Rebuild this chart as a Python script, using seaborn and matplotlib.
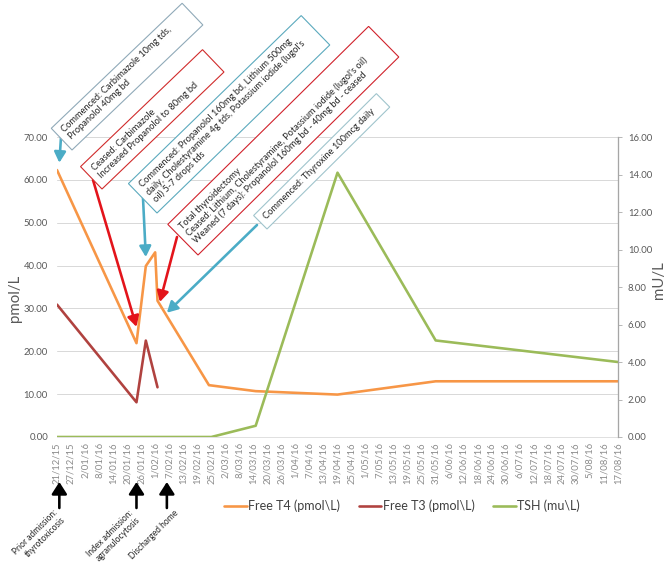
import matplotlib
matplotlib.use("Agg")
import matplotlib.pyplot as plt
import matplotlib.dates as mdates
from matplotlib.patches import Rectangle
from matplotlib.lines import Line2D
from matplotlib.transforms import IdentityTransform, blended_transform_factory
import seaborn as sns
import pandas as pd
import numpy as np

# ---------------- data ----------------
t4_dates = ["21/12/15", "24/01/16", "28/01/16", "1/02/16", "2/02/16",
            "24/02/16", "15/03/16", "19/04/16", "31/05/16", "17/08/16"]
t4_vals = [62.3, 21.9, 39.9, 43.1, 31.8, 12.1, 10.7, 9.9, 13.0, 13.0]

t3_dates = ["21/12/15", "24/01/16", "28/01/16", "2/02/16"]
t3_vals = [30.9, 8.1, 22.5, 11.6]

tsh_dates = ["21/12/15", "25/02/16", "15/03/16", "19/04/16", "31/05/16", "17/08/16"]
tsh_vals = [0.0, 0.0, 0.6, 14.1, 5.15, 4.0]

x_tick_labels = ["21/12/15", "27/12/15", "2/01/16", "8/01/16", "14/01/16", "20/01/16",
                 "26/01/16", "1/02/16", "7/02/16", "13/02/16", "19/02/16", "25/02/16",
                 "2/03/16", "8/03/16", "14/03/16", "20/03/16", "26/03/16", "1/04/16",
                 "7/04/16", "13/04/16", "19/04/16", "25/04/16", "1/05/16", "7/05/16",
                 "13/05/16", "19/05/16", "25/05/16", "31/05/16", "6/06/16", "12/06/16",
                 "18/06/16", "24/06/16", "30/06/16", "6/07/16", "12/07/16", "18/07/16",
                 "24/07/16", "30/07/16", "5/08/16", "11/08/16", "17/08/16"]
left_ticks = [0, 10, 20, 30, 40, 50, 60, 70]
right_ticks = [0, 2, 4, 6, 8, 10, 12, 14, 16]

series_labels = ["Free T4 (pmol\\L)", "Free T3 (pmol\\L)", "TSH (mu\\L)"]

event_dates = ["22/12/15", "24/01/16", "6/02/16"]
event_labels = ["Prior admission:\nthyrotoxicosis", "Index admission:\nagranulocytosis",
                "Discharged home"]

note_texts = [
    "Commenced: Carbimazole 10mg tds,\nPropanolol 40mg bd",
    "Ceased: Carbimazole\nIncreased Propanolol to 80mg bd",
    "Commenced: Propanolol 160mg bd, Lithium 500mg\ndaily, Cholestyramine 4g tds, Potassium iodide (lugol's\noil) 5-7 drops tds",
    "Total thyroidectomy\nCeased: Lithium, Cholestyramine, Potassium iodide (lugol's oil)\nWeaned (7 days): Propanolol 160mg bd - 40mg bd - ceased",
    "Commenced: Thyroxine 100mcg daily",
]
note_tip_dates = ["22/12/15", "24/01/16", "28/01/16", "3/02/16", "6/02/16"]
note_tip_vals = [64.0, 25.7, 42.0, 31.5, 29.0]


def D(s):
    return pd.to_datetime(s, format="%d/%m/%y")


# ---------------- style ----------------
ORANGE = "#f79646"
DARKRED = "#b0423f"
GREEN = "#9bbb59"
TEAL = "#4bacc6"
RED = "#e3141b"

sns.set_style("white")
plt.rcParams["font.family"] = ["Lato", "DejaVu Sans"]

W_PX, H_PX = 669, 564
DPI = 72
fig = plt.figure(figsize=(W_PX / DPI, H_PX / DPI), dpi=DPI)
ax = fig.add_axes([57 / W_PX, (H_PX - 437) / H_PX, (618 - 57) / W_PX, 300 / H_PX])
ax2 = ax.twinx()

df_t4 = pd.DataFrame({"date": [D(d) for d in t4_dates], "v": t4_vals})
df_t3 = pd.DataFrame({"date": [D(d) for d in t3_dates], "v": t3_vals})
df_tsh = pd.DataFrame({"date": [D(d) for d in tsh_dates], "v": tsh_vals})

sns.lineplot(data=df_t4, x="date", y="v", ax=ax, color=ORANGE, lw=2.6, sort=False)
sns.lineplot(data=df_t3, x="date", y="v", ax=ax, color=DARKRED, lw=2.6, sort=False)
sns.lineplot(data=df_tsh, x="date", y="v", ax=ax2, color=GREEN, lw=2.6, sort=False)

tick_dates = [D(t) for t in x_tick_labels]
ax.set_xlim(tick_dates[0], tick_dates[-1])
eps = 1.0002
ax.set_ylim(0, left_ticks[-1] * eps)
ax2.set_ylim(0, right_ticks[-1] * eps)
ax.set_xticks(tick_dates)
ax.set_xticklabels(x_tick_labels, rotation=90, fontsize=9.5, color="#8c8c8c")
ax.set_yticks(left_ticks)
ax.set_yticklabels([f"{v:.2f}" for v in left_ticks], fontsize=9.5, color="#595959")
ax2.set_yticks(right_ticks)
ax2.set_yticklabels([f"{v:.2f}" for v in right_ticks], fontsize=9.5, color="#595959")
ax.set_xlabel("")
ax.set_ylabel("pmol/L", fontsize=15, color="#595959")
ax2.set_ylabel("mU/L", fontsize=15, color="#595959")
ax.yaxis.set_label_coords(-0.062, 0.463)
ax2.yaxis.set_label_coords(1.061, 0.523)

ax.yaxis.grid(True, color="#d9d9d9", lw=1)
ax.xaxis.grid(False)
ax.set_axisbelow(True)
ax.tick_params(axis="y", length=0, pad=9)
ax.tick_params(axis="x", length=3, color="#d9d9d9", pad=2)
ax2.tick_params(axis="y", length=4, color="#a6a6a6", pad=6, direction="out")
for s in ["left", "right", "top"]:
    ax.spines[s].set_visible(False)
ax.spines["bottom"].set_color("#d9d9d9")
for s in ["left", "top", "bottom"]:
    ax2.spines[s].set_visible(False)
ax2.spines["right"].set_color("#a6a6a6")
ax2.spines["right"].set_linewidth(1.3)
ax2.grid(False)

# ---------------- annotation boxes ----------------
# geometry in image pixels: bottom corner, long side, short side, angle
box_geom = [((72, 150), 181, 30, 43.7, "#8fa9b8"),
            ((102, 189), 169, 31, 43.8, "#d02a2a"),
            ((157, 213), 241, 41, 44.2, "#5aa9bd"),
            ((198, 255), 282, 43, 44.6, "#d0202a"),
            ((267, 229), 173, 19, 44.8, "#9fc4cc")]
arrow_tails = [(61, 137), (93, 180), (143, 198), (177, 237), (257, 225)]
arrow_cols = [TEAL, RED, TEAL, RED, TEAL]

for i, txt in enumerate(note_texts):
    (bx, by_img), L, Wd, ang, ec = box_geom[i]
    by = H_PX - by_img
    th = np.deg2rad(ang)
    rect = Rectangle((bx, by), L, Wd, angle=ang, rotation_point="xy",
                     transform=IdentityTransform(), facecolor="white",
                     edgecolor=ec, lw=1.1, zorder=5)
    fig.add_artist(rect)
    tx = bx - Wd / 2 * np.sin(th) + 7 * np.cos(th)
    ty = by + Wd / 2 * np.cos(th) + 7 * np.sin(th)
    fig.text(tx, ty, txt, transform=IdentityTransform(), rotation=ang,
             rotation_mode="anchor", ha="left", va="center", fontsize=9.2,
             color="#262626", linespacing=1.12, zorder=6)
    tail = arrow_tails[i]
    ax2.annotate("", xy=(mdates.date2num(D(note_tip_dates[i])), note_tip_vals[i]),
                 xycoords=ax.transData, xytext=(tail[0], H_PX - tail[1]),
                 textcoords="figure pixels", annotation_clip=False,
                 arrowprops=dict(arrowstyle="-|>,head_length=0.55,head_width=0.3",
                                 color=arrow_cols[i], lw=2.6, shrinkA=0, shrinkB=0,
                                 mutation_scale=16))

# ---------------- event arrows below axis ----------------
trans = blended_transform_factory(ax.transData, IdentityTransform())
label_dx = [-6, -8, 7]
for d, lab, dx in zip(event_dates, event_labels, label_dx):
    x = mdates.date2num(D(d))
    ax.annotate("", xy=(x, H_PX - 482), xycoords=trans, xytext=(x, H_PX - 508),
                textcoords=trans, annotation_clip=False,
                arrowprops=dict(arrowstyle="-|>,head_length=0.5,head_width=0.32",
                                color="black", lw=2.6, shrinkA=0, shrinkB=0,
                                mutation_scale=20))
    ax.annotate(lab, xy=(x, H_PX - 508), xycoords=trans, xytext=(dx, 0),
                textcoords="offset pixels", rotation=45, rotation_mode="anchor",
                ha="right", va="top", multialignment="right", fontsize=8.5,
                color="#262626", annotation_clip=False)

# ---------------- legend ----------------
handles = [Line2D([], [], color=c, lw=2.6) for c in (ORANGE, DARKRED, GREEN)]
fig.legend(handles, series_labels, loc="center",
           bbox_to_anchor=(402 / W_PX, 1 - 506 / H_PX), ncol=3, frameon=False,
           fontsize=12.5, handlelength=1.8, handletextpad=0.1, columnspacing=1.5,
           labelcolor="#404040")

fig.savefig("out.png", dpi=DPI)
